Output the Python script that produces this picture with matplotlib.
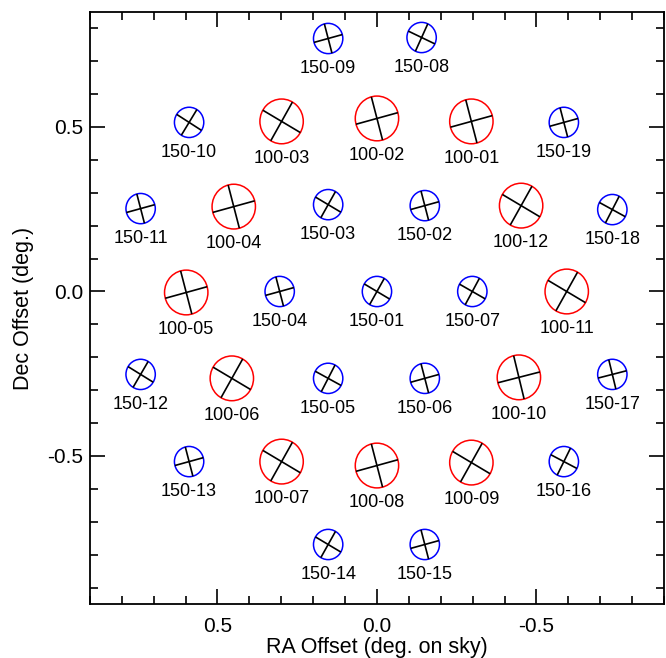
import numpy as np
import matplotlib
matplotlib.use("Agg")
import matplotlib.pyplot as plt
from matplotlib.patches import Circle
from matplotlib.ticker import MultipleLocator

plt.rcParams["font.family"] = ["Liberation Sans", "DejaVu Sans"]
plt.rcParams["axes.unicode_minus"] = False

# ---------------------------------------------------------------- data
# 100 GHz feeds (red): RA offset, Dec offset (deg), cross angle (deg)
names_100 = ["100-01", "100-02", "100-03", "100-04", "100-05", "100-06",
             "100-07", "100-08", "100-09", "100-10", "100-11", "100-12"]
ra_100 = [-0.296, 0.000, 0.299, 0.449, 0.598, 0.455,
          0.299, 0.000, -0.296, -0.445, -0.595, -0.452]
dec_100 = [0.517, 0.526, 0.517, 0.258, -0.003, -0.264,
           -0.517, -0.529, -0.520, -0.261, 0.000, 0.261]
ang_100 = [15, 15, -30, 15, 15, -30, -30, 15, -30, 14, -30, -30]

# 150 GHz feeds (blue)
names_150 = ["150-01", "150-02", "150-03", "150-04", "150-05", "150-06",
             "150-07", "150-08", "150-09", "150-10", "150-11", "150-12",
             "150-13", "150-14", "150-15", "150-16", "150-17", "150-18",
             "150-19"]
ra_150 = [0.000, -0.150, 0.153, 0.305, 0.153, -0.150,
          -0.299, -0.140, 0.153, 0.589, 0.741, 0.741,
          0.589, 0.153, -0.150, -0.586, -0.738, -0.738,
          -0.586]
dec_150 = [0.000, 0.261, 0.264, 0.000, -0.264, -0.264,
           0.000, 0.772, 0.769, 0.514, 0.252, -0.252,
           -0.517, -0.769, -0.769, -0.517, -0.252, 0.249,
           0.514]
ang_150 = [-30, 15, -30, 15, -28, 15, -29, -25, 15, -32, 15, -31,
           15, -30, 15, -27, 14, -28, 15]

r_100 = 0.068
r_150 = 0.046


def draw_feeds(ax, names, ra, dec, ang, r, color):
    for name, x, y, a in zip(names, ra, dec, ang):
        ax.add_patch(Circle((x, y), r, fill=False, ec=color, lw=1.1, zorder=2))
        for t in (a, a + 90):
            # RA axis is inverted, so flip the x component
            dx = -r * np.cos(np.radians(t))
            dy = r * np.sin(np.radians(t))
            ax.plot([x - dx, x + dx], [y - dy, y + dy], color="black",
                    lw=1.2, solid_capstyle="butt", zorder=3)
        ax.text(x, y - r - 0.045, name, ha="center", va="center",
                fontsize=13)


fig = plt.figure(figsize=(6.66, 6.58), dpi=100)
ax = fig.add_axes([0.135, 0.082, 0.862, 0.900])

draw_feeds(ax, names_100, ra_100, dec_100, ang_100, r_100, "red")
draw_feeds(ax, names_150, ra_150, dec_150, ang_150, r_150, "blue")

ax.set_xlim(0.9, -0.9)
ax.set_ylim(-0.95, 0.85)
ax.xaxis.set_major_locator(MultipleLocator(0.5))
ax.xaxis.set_minor_locator(MultipleLocator(0.1))
ax.yaxis.set_major_locator(MultipleLocator(0.5))
ax.yaxis.set_minor_locator(MultipleLocator(0.1))
ax.tick_params(which="both", direction="in", top=True, right=True,
               width=1.2, labelsize=15)
ax.tick_params(which="major", length=11)
ax.tick_params(which="minor", length=6)
ax.tick_params(axis="x", which="major", pad=9)
ax.tick_params(axis="y", which="major", pad=5)
for s in ax.spines.values():
    s.set_linewidth(1.3)

ax.set_xlabel("RA Offset (deg. on sky)", fontsize=15.5)
ax.set_ylabel("Dec Offset (deg.)", fontsize=15.5)
ax.xaxis.set_label_coords(0.5, -0.055)
ax.yaxis.set_label_coords(-0.097, 0.5)

fig.savefig("out.png", dpi=100)
